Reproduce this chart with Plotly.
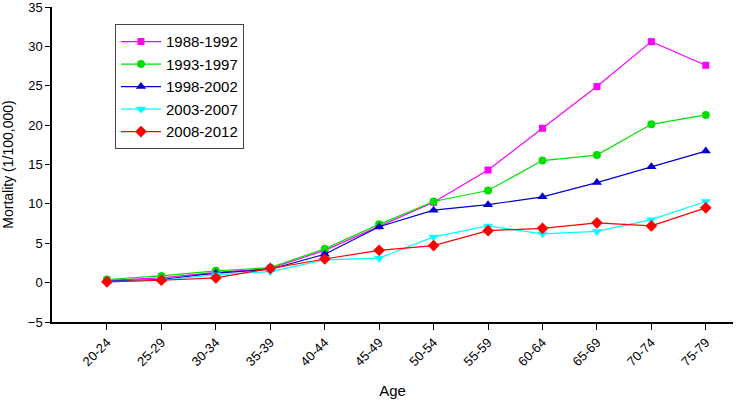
import plotly.graph_objects as go

ages = ["20-24", "25-29", "30-34", "35-39", "40-44", "45-49", "50-54",
        "55-59", "60-64", "65-69", "70-74", "75-79"]

s1988 = [0.3, 0.6, 1.3, 1.8, 4.1, 7.2, 10.2, 14.3, 19.6, 24.9, 30.6, 27.6]
s1993 = [0.4, 0.85, 1.5, 1.9, 4.3, 7.4, 10.3, 11.7, 15.5, 16.2, 20.1, 21.3]
s1998 = [0.2, 0.4, 1.2, 1.7, 3.6, 7.1, 9.2, 9.9, 10.9, 12.7, 14.7, 16.7]
s2003 = [0.1, 0.3, 1.0, 1.4, 2.9, 3.1, 5.8, 7.2, 6.2, 6.5, 8.0, 10.3]
s2008 = [0.1, 0.3, 0.6, 1.8, 3.0, 4.1, 4.7, 6.6, 6.9, 7.6, 7.2, 9.5]

series = [
    ("1988-1992", s1988, "#ff00ff", "square", 7),
    ("1993-1997", s1993, "#00e000", "circle", 8),
    ("1998-2002", s1998, "#0000cc", "triangle-up", 9),
    ("2003-2007", s2003, "#00ffff", "triangle-down", 9),
    ("2008-2012", s2008, "#ff0000", "diamond", 9),
]

xi = list(range(len(ages)))
fig = go.Figure()
for name, vals, col, sym, sz in series:
    fig.add_trace(go.Scatter(
        x=xi, y=vals, name=name, mode="lines+markers",
        line=dict(color=col, width=1.2),
        marker=dict(symbol=sym, size=sz, color=col, line=dict(width=0)),
    ))

fig.update_layout(
    width=738, height=403,
    margin=dict(l=52, r=5, t=7, b=81),
    paper_bgcolor="white", plot_bgcolor="white",
    font=dict(family="Liberation Sans, Arial, sans-serif", color="black"),
    showlegend=True,
    legend=dict(
        x=0.0925, y=0.945, xanchor="left", yanchor="top",
        bordercolor="#444", borderwidth=1, bgcolor="white",
        font=dict(size=15), tracegroupgap=0, itemwidth=40,
    ),
    xaxis=dict(
        range=[-1.01, 11.5], tickmode="array", tickvals=xi, ticktext=ages,
        tickangle=-45, ticks="outside", ticklen=6, tickwidth=1.2,
        tickcolor="black", showline=True, linecolor="black", linewidth=1.5,
        showgrid=False, zeroline=False, tickfont=dict(size=13),
        automargin=False,
        title=dict(text="Age", font=dict(size=15), standoff=17),
    ),
    yaxis=dict(
        range=[-5, 35], dtick=5, ticks="outside", ticklen=5, tickwidth=1.2,
        tickcolor="black", showline=True, linecolor="black", linewidth=1.5,
        showgrid=False, zeroline=False, tickfont=dict(size=13),
        automargin=False, ticklabeloverflow="allow",
        title=dict(text="Mortality (1/100,000)", font=dict(size=14), standoff=11),
    ),
)

# remove the page's default 8px body margin so the figure sits at the window origin
fig.write_html("out.html", config={"displayModeBar": False},
               post_script="document.body.style.margin='0';")
